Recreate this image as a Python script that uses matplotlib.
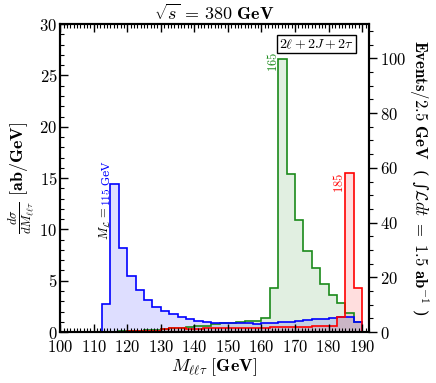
import numpy as np
import matplotlib
matplotlib.use("Agg")
import matplotlib.pyplot as plt
from matplotlib.ticker import MultipleLocator, FuncFormatter

plt.rcParams['mathtext.fontset'] = 'cm'
plt.rcParams['font.family'] = 'serif'
plt.rcParams['font.serif'] = ['DejaVu Serif']

# 2.5 GeV bins from 100 to 190 GeV
bin_edges = np.arange(100, 190.01, 2.5)

# d sigma / dM  [ab/GeV]
m115 = [0, 0, 0, 0,
        0.05, 2.7, 14.4, 8.2, 5.5, 4.06, 3.15, 2.47, 2.04, 1.72, 1.49, 1.27,
        1.07, 0.98, 0.93, 0.9, 0.87, 0.85, 0.84, 0.83, 0.84, 0.92, 0.94, 0.96,
        1.12, 1.18, 1.26, 1.32, 1.36, 1.42, 1.45, 0.95]
m165 = [0, 0, 0, 0,
        0, 0.03, 0.05, 0.08, 0.1, 0.12, 0.18, 0.22, 0.3, 0.35, 0.42, 0.5,
        0.58, 0.62, 0.75, 0.9, 0.92, 0.97, 1.1, 1.12, 1.33, 4.25, 26.6, 15.4,
        10.9, 7.9, 6.26, 4.64, 3.6, 2.79, 1.88, 0.94]
m185 = [0, 0, 0, 0,
        0, 0, 0.03, 0.05, 0.08, 0.1, 0.13, 0.15, 0.25, 0.35, 0.35, 0.33,
        0.33, 0.35, 0.35, 0.38, 0.38, 0.4, 0.4, 0.42, 0.42, 0.45, 0.45, 0.48,
        0.5, 0.52, 0.55, 0.6, 0.6, 1.43, 15.5, 4.3]

lumi = 1.5      # ab^-1
bin_width = 2.5  # GeV

fig = plt.figure(figsize=(4.36, 3.83), dpi=100)
ax = fig.add_axes([0.138, 0.133, 0.708, 0.804])

series = [(m165, '#1a8a1a'), (m115, '#0000ff'), (m185, '#ff0000')]
for vals, col in series:
    ax.stairs(vals, bin_edges, fill=True, color=col, alpha=0.13, lw=0)
for vals, col in series:
    ax.stairs(vals, bin_edges, color=col, lw=1.2)

ax.set_xlim(100, 192)
ax.set_ylim(0, 30)

bold = FuncFormatter(lambda v, p: r'$\mathbf{%d}$' % round(v))
ax.xaxis.set_major_locator(MultipleLocator(10))
ax.xaxis.set_minor_locator(MultipleLocator(1))
ax.yaxis.set_major_locator(MultipleLocator(5))
ax.yaxis.set_minor_locator(MultipleLocator(1))
ax.xaxis.set_major_formatter(bold)
ax.yaxis.set_major_formatter(bold)
ax.tick_params(which='both', direction='in', top=True, right=False, labelsize=12, pad=2)
ax.tick_params(axis='x', pad=5)
ax.tick_params(which='major', length=6, width=1)
ax.tick_params(which='minor', length=3, width=0.8)
for s in ax.spines.values():
    s.set_linewidth(1.5)

ax.set_xlabel(r'$M_{\ell\ell\tau}\ \mathbf{[GeV]}$', fontsize=13, labelpad=0)
ax.set_ylabel(r'$\frac{d\sigma}{dM_{\ell\ell\tau}}\ \mathbf{[ab/GeV]}$', fontsize=13, labelpad=2)
ax.set_title(r'$\sqrt{s}\,=\,\mathbf{380\ GeV}$', fontsize=13, pad=2)

ax2 = ax.twinx()
ax2.set_ylim(0, 30 * bin_width * lumi)
ax2.yaxis.set_major_locator(MultipleLocator(20))
ax2.yaxis.set_minor_locator(MultipleLocator(5))
ax2.yaxis.set_major_formatter(bold)
ax2.tick_params(which='both', direction='out', labelsize=12, pad=2)
ax2.tick_params(which='major', length=6, width=1)
ax2.tick_params(which='minor', length=3, width=0.8)
for s in ax2.spines.values():
    s.set_linewidth(1.5)
ax2.set_ylabel(r'$\mathbf{Events/2.5\ GeV}$  ( ∫$\mathcal{L}dt\ =\ \mathbf{1.5\ ab}^{-1}$ )',
               fontsize=12, rotation=270, labelpad=18)

# mass annotations
ax.text(113.6, 9.0, r'$M_{\mathcal{L}}\,=$', rotation=90, ha='center', va='bottom', fontsize=9)
ax.text(113.6, 12.3, r'$115$ GeV', rotation=90, ha='center', va='bottom', fontsize=8,
        color='#0000ff')
ax.text(163.3, 26.3, r'$165$', rotation=90, ha='center', va='center', fontsize=9, color='#1a8a1a')
ax.text(183.2, 14.5, r'$185$', rotation=90, ha='center', va='center', fontsize=9, color='#ff0000')

ax.text(0.83, 0.935, r'$2\ell + 2J + 2\tau$', transform=ax.transAxes, ha='center', va='center',
        fontsize=10, bbox=dict(boxstyle='square,pad=0.15', facecolor='white', edgecolor='black', lw=1))

fig.savefig('out.png', dpi=100)
